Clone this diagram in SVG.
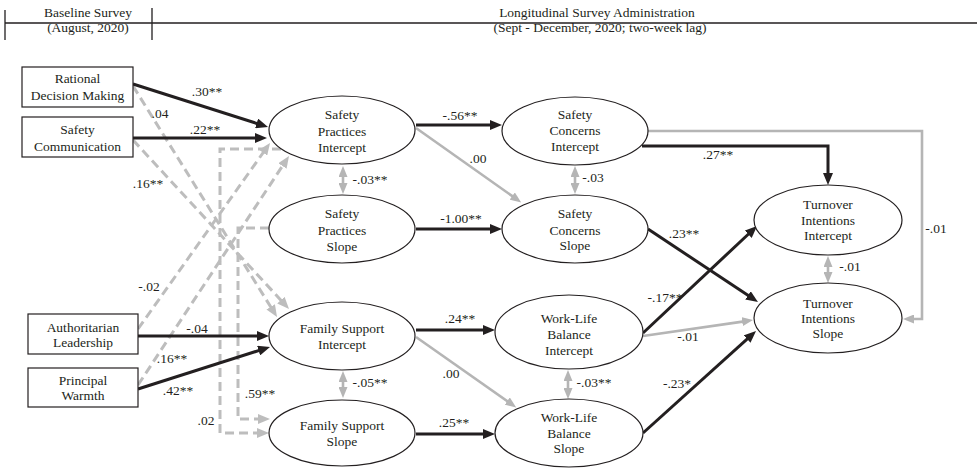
<svg xmlns="http://www.w3.org/2000/svg" width="977" height="469" viewBox="0 0 977 469" font-family="'Liberation Serif', 'Times New Roman', Times, serif">
<style>
text{font-size:13.5px;fill:#231f20;text-anchor:middle}
.box{fill:#fff;stroke:#231f20;stroke-width:1.2}
.ell{fill:#fff;stroke:#231f20;stroke-width:1.2}
.blk{fill:none;stroke:#231f20;stroke-width:3;marker-end:url(#ab)}
.gry{fill:none;stroke:#b5b5b5;stroke-width:2.6;marker-end:url(#ag)}
.dsh{fill:none;stroke:#bdbdbd;stroke-width:3;stroke-dasharray:9 5;marker-end:url(#ad)}
.dbl{fill:none;stroke:#b5b5b5;stroke-width:2.6;marker-start:url(#ags);marker-end:url(#ag)}
.hdr{stroke:#231f20;stroke-width:1.3;fill:none}
</style>
<defs>
<marker id="ab" viewBox="0 0 12 10" refX="4" refY="5" markerWidth="12" markerHeight="10" orient="auto" markerUnits="userSpaceOnUse"><path d="M0,0 L12,5 L0,10 Z" fill="#231f20"/></marker>
<marker id="ag" viewBox="0 0 11 9" refX="4" refY="4.5" markerWidth="11" markerHeight="9" orient="auto" markerUnits="userSpaceOnUse"><path d="M0,0 L11,4.5 L0,9 Z" fill="#b5b5b5"/></marker>
<marker id="ags" viewBox="0 0 11 9" refX="7" refY="4.5" markerWidth="11" markerHeight="9" orient="auto" markerUnits="userSpaceOnUse"><path d="M11,0 L0,4.5 L11,9 Z" fill="#b5b5b5"/></marker>
<marker id="ad" viewBox="0 0 12 10" refX="4" refY="5" markerWidth="12" markerHeight="10" orient="auto" markerUnits="userSpaceOnUse"><path d="M0,0 L12,5 L0,10 Z" fill="#bdbdbd"/></marker>
</defs>

<g id="header">
<path class="hdr" d="M5,23 H977 M5,10 V40 M152,8 V40"/>
<text x="88" y="17">Baseline Survey</text>
<text x="88" y="32">(August, 2020)</text>
<text x="597" y="17">Longitudinal Survey Administration</text>
<text x="600" y="32">(Sept - December, 2020; two-week lag)</text>
</g>

<g id="connectors">
<path class="dsh" d="M281,149 H220 V433 H261"/>
<path class="dsh" d="M269,228 H238 V419 H262"/>
<path class="dsh" d="M133,86 L272.8,310.2"/>
<path class="dsh" d="M133,140 L283.6,303.1"/>
<path class="dsh" d="M138,329 L265.4,149.5"/>
<path class="dsh" d="M138,385 L284.6,162.7"/>
<path class="blk" d="M133,84 L260.4,124.6"/>
<path class="blk" d="M133,138 L259,138"/>
<path class="blk" d="M138,336 L261,336"/>
<path class="blk" d="M138,389 L262.4,349.4"/>
<path class="blk" d="M416,125 L494,125"/>
<path class="blk" d="M416,229 L494,229"/>
<path class="blk" d="M416,330 L487,330"/>
<path class="blk" d="M416,434 L487,434"/>
<path class="gry" d="M416,128 L515.5,198.4"/>
<path class="gry" d="M416,337 L510.5,403.4"/>
<path class="gry" d="M648,131 H922 V319 H910"/>
<path class="blk" d="M642,146 H828 V177"/>
<path class="blk" d="M648,229 L751.3,297.6"/>
<path class="blk" d="M643,333 L751.2,231.5"/>
<path class="gry" d="M643,336 L746.1,321.1"/>
<path class="blk" d="M643,433 L750.1,336.4"/>
<path class="dbl" d="M343,173 V187"/>
<path class="dbl" d="M575,173 V187"/>
<path class="dbl" d="M343,378 V391"/>
<path class="dbl" d="M568,377 V392"/>
<path class="dbl" d="M828,263 V276"/>
</g>

<g id="labels">
<text x="207" y="96">.30**</text>
<text x="160" y="118">.04</text>
<text x="205" y="134">.22**</text>
<text x="148" y="188">.16**</text>
<text x="149" y="291">-.02</text>
<text x="197" y="333">-.04</text>
<text x="172" y="363">.16**</text>
<text x="178" y="395">.42**</text>
<text x="206" y="425">.02</text>
<text x="260" y="398">.59**</text>
<text x="460" y="120">-.56**</text>
<text x="478" y="163">.00</text>
<text x="370" y="184">-.03**</text>
<text x="461" y="223">-1.00**</text>
<text x="593" y="182">-.03</text>
<text x="718" y="159">.27**</text>
<text x="684" y="238">.23**</text>
<text x="936" y="233">-.01</text>
<text x="850" y="271">-.01</text>
<text x="460" y="323">.24**</text>
<text x="451" y="378">.00</text>
<text x="370" y="387">-.05**</text>
<text x="454" y="427">.25**</text>
<text x="665" y="302">-.17**</text>
<text x="688" y="341">-.01</text>
<text x="594" y="387">-.03**</text>
<text x="677" y="388">-.23*</text>
</g>

<g id="rdm"><rect class="box" x="22" y="67" width="111" height="40"/><text x="77.5" y="83">Rational</text><text x="77.5" y="100">Decision Making</text></g>
<g id="sc"><rect class="box" x="22" y="117" width="111" height="40"/><text x="77.5" y="134">Safety</text><text x="77.5" y="151">Communication</text></g>
<g id="al"><rect class="box" x="28" y="314" width="110" height="40"/><text x="83" y="332">Authoritarian</text><text x="83" y="347">Leadership</text></g>
<g id="pw"><rect class="box" x="28" y="368" width="110" height="39"/><text x="83" y="385">Principal</text><text x="83" y="400">Warmth</text></g>

<g id="spi"><ellipse class="ell" cx="342" cy="130" rx="73" ry="34"/><text x="342" y="119">Safety</text><text x="342" y="136">Practices</text><text x="342" y="152">Intercept</text></g>
<g id="sps"><ellipse class="ell" cx="342" cy="229" rx="73" ry="34"/><text x="342" y="218">Safety</text><text x="342" y="235">Practices</text><text x="342" y="251">Slope</text></g>
<g id="fsi"><ellipse class="ell" cx="342" cy="336" rx="73" ry="34"/><text x="342" y="333">Family Support</text><text x="342" y="349">Intercept</text></g>
<g id="fss"><ellipse class="ell" cx="342" cy="433" rx="73" ry="33"/><text x="342" y="430">Family Support</text><text x="342" y="446">Slope</text></g>
<g id="sci"><ellipse class="ell" cx="575" cy="131" rx="73" ry="34"/><text x="575" y="119">Safety</text><text x="575" y="135">Concerns</text><text x="575" y="151">Intercept</text></g>
<g id="scs"><ellipse class="ell" cx="575" cy="229" rx="73" ry="34"/><text x="575" y="218">Safety</text><text x="575" y="235">Concerns</text><text x="575" y="250">Slope</text></g>
<g id="wlbi"><ellipse class="ell" cx="569" cy="332" rx="74" ry="37"/><text x="569" y="323">Work-Life</text><text x="569" y="339">Balance</text><text x="569" y="355">Intercept</text></g>
<g id="wlbs"><ellipse class="ell" cx="569" cy="433" rx="74" ry="34"/><text x="569" y="422">Work-Life</text><text x="569" y="438">Balance</text><text x="569" y="453">Slope</text></g>
<g id="tii"><ellipse class="ell" cx="828" cy="220" rx="74" ry="35"/><text x="828" y="209">Turnover</text><text x="828" y="225">Intentions</text><text x="828" y="240">Intercept</text></g>
<g id="tis"><ellipse class="ell" cx="828" cy="318" rx="74" ry="35"/><text x="828" y="308">Turnover</text><text x="828" y="323">Intentions</text><text x="828" y="338">Slope</text></g>
</svg>
